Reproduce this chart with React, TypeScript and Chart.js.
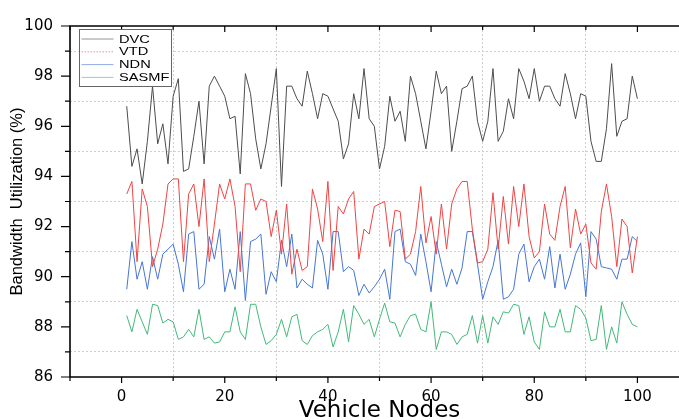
import React, { useEffect, useRef } from "react";
import { Chart, registerables } from "chart.js";

Chart.register(...registerables);

const nodes = Array.from({ length: 100 }, (_, i) => i + 1);

const dvc = [
  96.8, 94.4, 95.1, 93.7, 95.4, 97.6, 95.3, 96.1, 94.5, 97.2,
  97.9, 94.2, 94.3, 95.6, 97.0, 94.5, 97.6, 98.0, 97.6, 97.2,
  96.3, 96.4, 94.1, 98.1, 97.3, 95.5, 94.3, 95.3, 96.8, 98.3,
  93.6, 97.6, 97.6, 97.1, 96.8, 98.2, 97.3, 96.3, 97.3, 97.2,
  96.7, 96.2, 94.7, 95.3, 97.3, 96.3, 98.3, 96.3, 96.0, 94.3,
  95.2, 97.2, 96.2, 96.6, 95.4, 98.0, 97.3, 96.2, 95.1, 96.6,
  98.2, 97.3, 97.6, 95.0, 96.2, 97.5, 97.6, 98.0, 96.2, 95.4,
  96.2, 98.3, 95.4, 95.8, 97.1, 96.3, 98.3, 97.8, 97.1, 98.3,
  97.0, 97.6, 97.6, 97.1, 96.8, 98.1, 97.3, 96.3, 97.3, 97.2,
  95.4, 94.6, 94.6, 95.9, 98.5, 95.6, 96.2, 96.3, 98.0, 97.1,
];

const vtd = [
  93.3, 93.8, 90.6, 93.5, 92.8, 90.4, 91.1, 92.1, 93.7, 93.9,
  93.9, 90.6, 93.3, 93.7, 92.0, 93.9, 90.6, 92.1, 93.7, 93.1,
  93.9, 92.8, 90.2, 93.7, 93.7, 92.65, 93.1, 93.0, 91.6, 92.65,
  90.9, 92.9, 90.1, 91.1, 90.25, 90.4, 93.5, 92.7, 91.4, 93.8,
  90.25, 92.8, 92.5, 93.1, 93.4, 90.7, 91.9, 91.7, 92.8, 92.9,
  93.0, 91.2, 92.65, 92.6, 90.7, 90.9, 91.8, 93.6, 91.35, 92.4,
  90.9, 92.9, 91.1, 92.9, 93.5, 93.8, 93.8, 91.9, 90.55, 90.6,
  91.1, 93.35, 91.1, 93.2, 91.3, 93.6, 92.0, 93.7, 91.6, 90.75,
  91.0, 92.9, 91.7, 91.45, 92.8, 93.6, 91.15, 92.7, 91.7, 92.1,
  90.55, 90.3, 92.6, 93.7, 92.4, 90.4, 92.3, 92.0, 90.15, 91.6,
];

const ndn = [
  89.5, 91.4, 89.9, 90.6, 89.5, 90.8, 89.9, 90.9, 91.1, 91.3,
  90.5, 89.4, 91.7, 91.8, 89.5, 89.7, 91.6, 90.7, 91.9, 89.4,
  90.3, 89.5, 91.8, 89.05, 91.4, 91.5, 91.7, 89.3, 90.2, 89.8,
  91.45, 90.4, 91.7, 89.55, 89.9, 89.7, 89.55, 91.45, 90.9, 89.5,
  91.8, 91.8, 90.2, 90.4, 90.25, 89.25, 89.7, 89.35, 89.6, 89.9,
  90.3, 89.1, 91.8, 91.9, 90.6, 90.5, 90.05, 91.7, 90.6, 89.4,
  91.4, 90.5, 89.6, 90.3, 89.7, 90.35, 91.8, 91.8, 90.5, 89.1,
  89.8, 90.4, 91.45, 89.1, 89.2, 89.5, 90.9, 91.3, 89.8, 90.4,
  90.7, 89.9, 91.2, 89.55, 90.9, 89.5, 90.1, 90.9, 91.35, 89.2,
  91.8, 91.5, 90.4, 90.35, 90.3, 89.9, 90.7, 90.7, 91.6, 91.4,
];

const sasmf = [
  88.45, 87.8, 88.7, 88.2, 87.7, 88.9, 88.85, 88.15, 88.3, 88.2,
  87.5, 87.6, 87.9, 87.6, 88.7, 87.5, 87.6, 87.35, 87.4, 87.8,
  87.8, 88.8, 87.8, 87.5, 88.9, 88.9, 88.0, 87.3, 87.45, 87.7,
  88.3, 87.6, 88.4, 88.5, 87.45, 87.3, 87.65, 87.8, 87.9, 88.1,
  87.2, 87.8, 88.7, 87.4, 88.85, 88.5, 88.1, 88.3, 87.6, 88.3,
  88.95, 88.2, 88.15, 87.6, 88.1, 88.45, 88.5, 87.9, 87.8, 89.0,
  87.1, 87.8, 87.8, 87.7, 87.3, 87.6, 87.7, 88.45, 87.35, 88.45,
  87.35, 88.4, 88.1, 88.6, 88.55, 88.9, 88.85, 87.7, 88.4, 87.4,
  87.1, 88.6, 88.0, 88.0, 88.7, 87.8, 87.8, 88.85, 88.7, 88.35,
  87.45, 87.5, 88.85, 87.1, 88.0, 87.35, 89.0, 88.5, 88.1, 88.0,
];

const seriesNames = ["DVC", "VTD", "NDN", "SASMF"];
const seriesColors = ["#4d4d4d", "#f04444", "#4675d4", "#42b978"];
const xLabeled = [0, 20, 40, 60, 80, 100];
const yLabeled = [86, 88, 90, 92, 94, 96, 98, 100];
const xTitle = "Vehicle Nodes";
const yTitle = "Bandwidth  Utilization (%)";

export default function App() {
  const ref = useRef<HTMLCanvasElement>(null);

  useEffect(() => {
    const canvas = ref.current;
    if (!canvas) return;
    const series = [dvc, vtd, ndn, sasmf];

    const frame = {
      id: "originFrame",
      afterDraw(chart: any) {
        const { ctx, chartArea: a, scales } = chart;
        const xs = scales.x;
        const ys = scales.y;
        ctx.save();
        ctx.strokeStyle = "#000";
        ctx.lineWidth = 1.6;
        ctx.beginPath();
        ctx.moveTo(a.left, a.top);
        ctx.lineTo(a.left, a.bottom);
        ctx.lineTo(a.right, a.bottom);
        ctx.lineTo(a.right, a.top);
        ctx.closePath();
        ctx.stroke();
        ctx.lineWidth = 1.2;
        ctx.beginPath();
        for (let v = -10; v <= 110; v += 10) {
          const px = xs.getPixelForValue(v);
          const len = v % 20 === 0 ? 6 : 4;
          ctx.moveTo(px, a.bottom);
          ctx.lineTo(px, a.bottom + len);
          ctx.moveTo(px, a.top);
          ctx.lineTo(px, a.top + len);
        }
        for (let v = 86; v <= 100; v++) {
          const py = ys.getPixelForValue(v);
          const len = v % 2 === 0 ? 9 : 5;
          ctx.moveTo(a.left - len, py);
          ctx.lineTo(a.left, py);
        }
        ctx.stroke();

        // legend
        const bx = a.left + 9.5;
        const by = a.top + 3.5;
        const bw = 92;
        const bh = 57;
        ctx.fillStyle = "#fff";
        ctx.fillRect(bx, by, bw, bh);
        ctx.strokeStyle = "#666";
        ctx.lineWidth = 1;
        ctx.strokeRect(bx, by, bw, bh);
        ctx.textBaseline = "middle";
        ctx.textAlign = "left";
        chart.data.datasets.forEach((ds: any, i: number) => {
          const ry = by + 9.5 + i * 12.8;
          ctx.strokeStyle = ds.borderColor;
          ctx.lineWidth = 1;
          ctx.setLineDash(i === 1 ? [1.5, 1.5] : []);
          ctx.globalAlpha = 0.6;
          ctx.beginPath();
          ctx.moveTo(bx + 2, ry);
          ctx.lineTo(bx + 34, ry);
          ctx.stroke();
          ctx.globalAlpha = 1;
          ctx.setLineDash([]);
          ctx.save();
          ctx.translate(bx + 39.5, ry + 0.5);
          ctx.scale(1.33, 1);
          ctx.font = "11px 'Liberation Sans'";
          ctx.fillStyle = "#000";
          ctx.fillText(ds.label, 0, 0);
          ctx.restore();
        });
        ctx.restore();
      },
    };

    const chart = new Chart(canvas, {
      type: "line",
      data: {
        datasets: series.map((vals, i) => ({
          label: seriesNames[i],
          data: nodes.map((n, j) => ({ x: n, y: vals[j] })),
          borderColor: seriesColors[i],
          backgroundColor: seriesColors[i],
          borderWidth: 1,
          pointRadius: 0,
          tension: 0,
          fill: false,
        })),
      },
      options: {
        responsive: false,
        animation: false,
        devicePixelRatio: 1,
        layout: { padding: { top: 11.5, right: 10.7, left: 0, bottom: 0 } },
        plugins: {
          legend: { display: false },
          tooltip: { enabled: false },
        },
        scales: {
          x: {
            type: "linear",
            min: -10,
            max: 110,
            afterFit: (s: any) => {
              s.height = 43;
            },
            afterBuildTicks: (s: any) => {
              const t = [];
              for (let v = -10; v <= 110; v += 10) t.push({ value: v });
              s.ticks = t;
            },
            ticks: {
              autoSkip: false,
              maxRotation: 0,
              padding: 11,
              color: "#000",
              font: { family: "'DejaVu Sans'", size: 15 },
              callback: (v: any) => (xLabeled.includes(Number(v)) ? String(v) : ""),
            },
            grid: {
              drawTicks: false,
              lineWidth: 1,
              color: (c: any) => {
                const v = c.tick ? c.tick.value : 0;
                return v > -10 && v < 110 && v % 20 !== 0 ? "#cfcfcf" : "rgba(0,0,0,0)";
              },
            },
            border: { display: false, dash: [2, 2] },
            title: {
              display: true,
              text: xTitle,
              color: "#000",
              font: { family: "'DejaVu Sans'", size: 23 },
              padding: { top: 0, bottom: -5 },
            },
          },
          y: {
            type: "linear",
            min: 86,
            max: 100,
            afterFit: (s: any) => {
              s.width = 70;
            },
            afterBuildTicks: (s: any) => {
              const t = [];
              for (let v = 86; v <= 100; v++) t.push({ value: v });
              s.ticks = t;
            },
            ticks: {
              autoSkip: false,
              padding: 17,
              color: "#000",
              font: { family: "'DejaVu Sans'", size: 15 },
              callback: (v: any) => (yLabeled.includes(Number(v)) ? String(v) : ""),
            },
            grid: {
              drawTicks: false,
              lineWidth: 1,
              color: (c: any) => {
                const v = c.tick ? c.tick.value : 0;
                return v % 2 !== 0 ? "#cfcfcf" : "rgba(0,0,0,0)";
              },
            },
            border: { display: false, dash: [2, 2] },
            title: {
              display: true,
              text: yTitle,
              color: "#000",
              font: { family: "'Liberation Sans'", size: 16.5 },
              padding: { top: 7.5, bottom: 0 },
            },
          },
        },
      },
      plugins: [frame],
    });

    return () => chart.destroy();
  }, []);

  return (
    <div
      style={{
        position: "fixed",
        left: 0,
        top: 0,
        width: 679,
        height: 420,
        overflow: "hidden",
        background: "#fff",
      }}
    >
      <canvas ref={ref} width={700} height={420} style={{ display: "block" }} />
    </div>
  );
}
